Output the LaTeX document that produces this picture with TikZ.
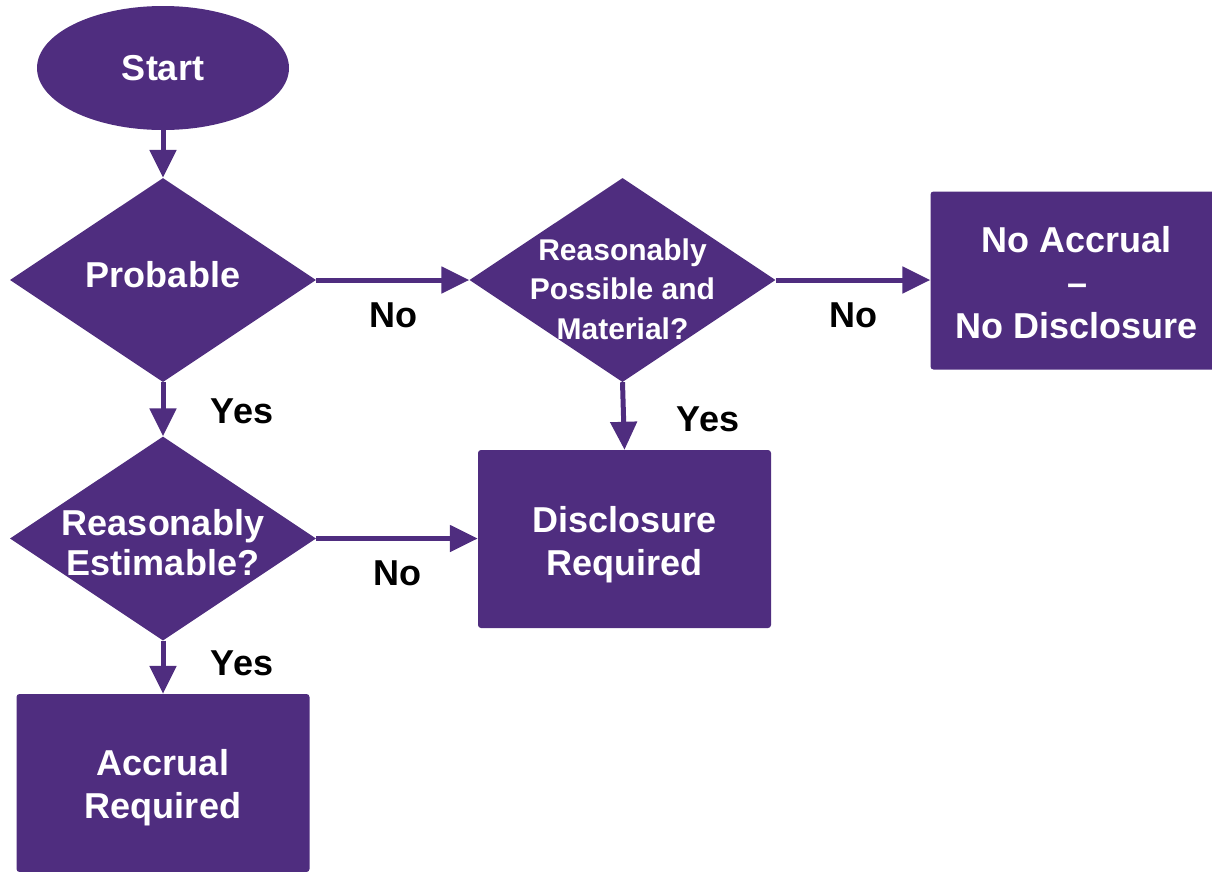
\documentclass[tikz,border=0pt]{standalone}
\usepackage{fontspec}
\setmainfont{Liberation Sans}
\usetikzlibrary{shapes.geometric,arrows.meta}
\definecolor{purp}{HTML}{4F2D7F}
\begin{document}
\begin{tikzpicture}[x=1pt,y=-1pt,
 shapebox/.style={fill=purp, rounded corners=3pt, minimum width=293pt, minimum height=178pt, inner sep=0pt},
 boxtext/.style={text=white, font=\bfseries\fontsize{36}{43}\selectfont, align=center, inner sep=0pt},
 dec/.style={diamond, fill=purp, minimum width=306pt, minimum height=204pt, inner sep=0pt},
 dectext/.style={text=white, font=\bfseries\fontsize{36}{40}\selectfont, align=center, inner sep=0pt},
 dectextsmall/.style={text=white, font=\bfseries\fontsize{30}{39.5}\selectfont, align=center, inner sep=0pt},
 lbl/.style={font=\bfseries\fontsize{36}{43}\selectfont, inner sep=0pt},
 arr/.style={draw=purp, line width=5pt, -{Triangle[length=28pt,width=26pt]}}
]
\useasboundingbox (0,0) rectangle (1212,871);
\node[ellipse, fill=purp, minimum width=252pt, minimum height=124pt, inner sep=0pt, text=white, font=\bfseries\fontsize{36}{43}\selectfont] (start) at (163,68) {Start};
\node[dec] (prob) at (163,280) {};
\node[dectext] (probt) at ([yshift=5pt]prob.center) {Probable};
\node[dec] (est) at (163,538.5) {};
\node[dectext] (estt) at ([yshift=-4pt]est.center) {Reasonably\\Estimable?};
\node[dec] (poss) at (622.5,280) {};
\node[dectextsmall] (posst) at ([yshift=-9pt]poss.center) {Reasonably\\Possible and\\Material?};
\node[shapebox] (noacc) at (1077,280.5) {};
\node[boxtext] (noacct) at ([yshift=-2pt]noacc.center) {No Accrual\\–\\No Disclosure};
\node[shapebox] (disc) at (624.5,539) {};
\node[boxtext] (disct) at ([yshift=-6pt]disc.center) {Disclosure\\Required};
\node[shapebox] (acc) at (163,783) {};
\node[boxtext] (acct) at ([yshift=-5pt]acc.center) {Accrual\\Required};

\draw[arr] (start.south) -- (prob.north);
\draw[arr] (prob.south) -- (est.north);
\draw[arr] (est.south) -- (acc.north);
\draw[arr] (prob.east) -- (poss.west);
\draw[arr] (poss.east) -- (poss.east -| noacc.west);
\draw[arr] (poss.south) -- (disc.north);
\draw[arr] (est.east) -- (est.east -| disc.west);

\node[lbl] (l1) at (393,315) {No};
\node[lbl] (l2) at (853,315) {No};
\node[lbl] (l3) at (242,411) {Yes};
\node[lbl] (l4) at (708,419) {Yes};
\node[lbl] (l5) at (397,573) {No};
\node[lbl] (l6) at (242,663) {Yes};
\end{tikzpicture}
\end{document}
